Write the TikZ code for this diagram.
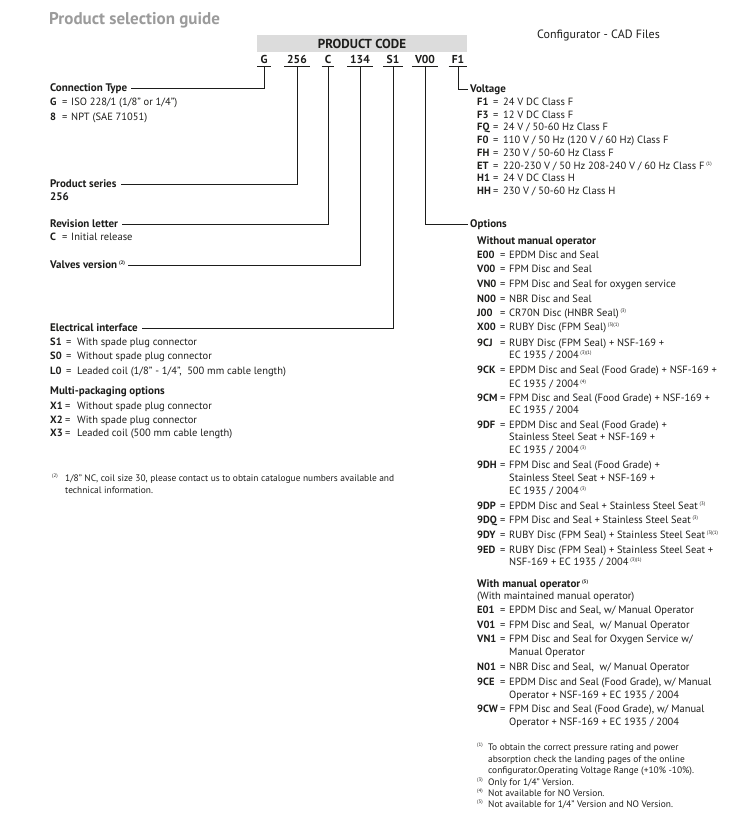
\documentclass[tikz,border=0pt]{standalone}
\usepackage{fontspec}
\setmainfont{PT Sans}
\usetikzlibrary{positioning}

\definecolor{titlegrey}{HTML}{9B9B9B}
\definecolor{boxgrey}{HTML}{DCDCDC}
\definecolor{inkcol}{HTML}{1D1D1B}
\newcommand{\fnref}[1]{\,\raisebox{0.75ex}{\fontsize{5}{6}\selectfont#1}}

\begin{document}
\begin{tikzpicture}[x=1pt, y=-1pt,
    txt/.style={anchor=west, inner sep=0pt, text height=7.4pt, text depth=0pt, text=inkcol, font=\fontsize{10.5}{12}\selectfont},
    head/.style={txt, text height=7.6pt, font=\fontsize{11}{13}\selectfont\bfseries},
    key/.style={txt, text height=7.4pt, font=\fontsize{10.5}{12}\selectfont\bfseries},
    small/.style={txt, text height=6.6pt, font=\fontsize{9.4}{11}\selectfont},
    fnmark/.style={txt, text height=3.5pt, font=\fontsize{5}{6}\selectfont},
    digit/.style={inner xsep=3pt, inner ysep=3.5pt, text height=8pt, text depth=0pt, text=inkcol, font=\fontsize{11.5}{13}\selectfont\bfseries},
    lead/.style={draw=inkcol, line width=0.8pt}
]
\useasboundingbox (0,0) rectangle (736,828);

% Kopf
\node[anchor=west, inner sep=0pt, text=titlegrey, font=\fontsize{17}{19}\selectfont\bfseries] (title) at (49,20) {Product selection guide};
\node[fill=boxgrey, minimum width=210pt, minimum height=17pt, inner sep=0pt, text=inkcol, font=\fontsize{13}{15}\selectfont\bfseries] (pcode) at (362,43.5) {PRODUCT CODE};
\node[anchor=west, inner sep=0pt, text=inkcol, font=\fontsize{12}{14}\selectfont] (cad) at (537,35) {Configurator - CAD Files};

% Code
\foreach \n/\x/\c in {G/264/G, S/297/256, R/328/C, V/360/134, E/393/S1, O/425/V00, F/458/F1}{
  \node[digit] (c\n) at (\x,59) {\c};
  \draw[lead] (c\n.south west) -- (c\n.south east);
}

% Linke Spalte
\node[head] (conn) at (50,88) {Connection Type};
\foreach \n/\y/\c/\t in {G/102/G/{ISO 228/1 (1/8" or 1/4")}, 8/117/8/{NPT (SAE 71051)}}{
  \node[key] (kc\n) at (50,\y) {\c};
  \node[txt] (qc\n) at (62,\y) {=};
  \node[txt] (tc\n) at (71,\y) {\t};
}
\node[head] (series) at (50,184) {Product series};
\node[head] (serval) at (50,197) {256};
\node[head] (rev) at (50,224) {Revision letter};
\node[key] (kr) at (50,237) {C};
\node[txt] (qr) at (62,237) {=};
\node[txt] (tr) at (71,237) {Initial release};
\node[head] (valves) at (50,265) {Valves version\fnref{(2)}};
\node[head] (elec) at (50,328) {Electrical interface};
\foreach \n/\y/\c/\t in {1/342/S1/{With spade plug connector}, 2/356/S0/{Without spade plug connector}, 3/371/L0/{Leaded coil (1/8" - 1/4",\ \ 500 mm cable length)}}{
  \node[key] (ke\n) at (50,\y) {\c};
  \node[txt] (qe\n) at (66,\y) {=};
  \node[txt] (te\n) at (77,\y) {\t};
}
\node[head] (multi) at (50,391) {Multi-packaging options};
\foreach \n/\y/\c/\t in {1/406/X1/{Without spade plug connector}, 2/420/X2/{With spade plug connector}, 3/433/X3/{Leaded coil (500 mm cable length)}}{
  \node[key] (km\n) at (50,\y) {\c};
  \node[txt] (qm\n) at (65,\y) {=};
  \node[txt] (tm\n) at (77,\y) {\t};
}
\node[fnmark] (fl) at (52,476) {(2)};
\node[small] (fl1) at (65,478) {1/8" NC, coil size 30, please contact us to obtain catalogue numbers available and};
\node[small] (fl2) at (65,490) {technical information.};

% Rechte Spalte: Spannung
\node[head] (volt) at (470,89) {Voltage};
\foreach \n/\y/\t in {F1/102/{24 V DC Class F}, F3/115/{12 V DC Class F}, FQ/127/{24 V / 50-60 Hz Class F}, F0/140/{110 V / 50 Hz (120 V / 60 Hz) Class F}, FH/153/{230 V / 50-60 Hz Class F}, ET/166/{220-230 V / 50 Hz 208-240 V / 60 Hz Class F\fnref{(1)}}, H1/178/{24 V DC Class H}, HH/191/{230 V / 50-60 Hz Class H}}{
  \node[key] (kv\n) at (477,\y) {\n};
  \node[txt] (qv\n) at (493,\y) {=};
  \node[txt] (tv\n) at (503,\y) {\t};
}

% Rechte Spalte: Optionen
\node[head] (opts) at (470,224) {Options};
\node[head] (nomo) at (477,241) {Without manual operator};
\foreach \n/\y/\t in {E00/255/{EPDM Disc and Seal}, V00/269/{FPM Disc and Seal}, VN0/284/{FPM Disc and Seal for oxygen service}, N00/299/{NBR Disc and Seal}, J00/313/{CR70N Disc (HNBR Seal)\fnref{(3)}}, X00/327/{RUBY Disc (FPM Seal)\fnref{(3)(1)}}, 9CJ/343/{RUBY Disc (FPM Seal) + NSF-169 +}, 9CK/370/{EPDM Disc and Seal (Food Grade) + NSF-169 +}, 9CM/398/{FPM Disc and Seal (Food Grade) + NSF-169 +}, 9DF/425/{EPDM Disc and Seal (Food Grade) +}, 9DH/465/{FPM Disc and Seal (Food Grade) +}, 9DP/506/{EPDM Disc and Seal + Stainless Steel Seat\fnref{(3)}}, 9DQ/520/{FPM Disc and Seal + Stainless Steel Seat\fnref{(3)}}, 9DY/535/{RUBY Disc (FPM Seal) + Stainless Steel Seat\fnref{(3)(1)}}, 9ED/550/{RUBY Disc (FPM Seal) + Stainless Steel Seat +}}{
  \node[key] (ko\n) at (477,\y) {\n};
  \node[txt] (qo\n) at (500,\y) {=};
  \node[txt] (to\n) at (509,\y) {\t};
}
\foreach \n/\y/\t in {1/355/{EC 1935 / 2004\fnref{(3)(1)}}, 2/384/{EC 1935 / 2004\fnref{(4)}}, 3/410/{EC 1935 / 2004}, 4/437/{Stainless Steel Seat + NSF-169 +}, 5/450/{EC 1935 / 2004\fnref{(3)}}, 6/478/{Stainless Steel Seat + NSF-169 +}, 7/491/{EC 1935 / 2004\fnref{(3)}}, 8/562/{NSF-169 + EC 1935 / 2004\fnref{(3)(1)}}}{
  \node[txt] (wo\n) at (509,\y) {\t};
}

\node[head] (wmo) at (477,584) {With manual operator\fnref{(5)}};
\node[txt] (wmo2) at (477,596) {(With maintained manual operator)};
\foreach \n/\y/\t in {E01/610/{EPDM Disc and Seal, w/ Manual Operator}, V01/625/{FPM Disc and Seal,\ \ w/ Manual Operator}, VN1/639/{FPM Disc and Seal for Oxygen Service w/}, N01/667/{NBR Disc and Seal,\ \ w/ Manual Operator}, 9CE/682/{EPDM Disc and Seal (Food Grade), w/ Manual}, 9CW/709/{FPM Disc and Seal (Food Grade), w/ Manual}}{
  \node[key] (km\n) at (477,\y) {\n};
  \node[txt] (qm\n) at (500,\y) {=};
  \node[txt] (tm\n) at (509,\y) {\t};
}
\foreach \n/\y/\t in {1/652/{Manual Operator}, 2/695/{Operator + NSF-169 + EC 1935 / 2004}, 3/722/{Operator + NSF-169 + EC 1935 / 2004}}{
  \node[txt] (wm\n) at (509,\y) {\t};
}

% Fussnoten
\foreach \n/\y in {1/745, 3/780, 4/791, 5/802}{
  \node[fnmark] (fm\n) at (477,\y) {(\n)};
}
\foreach \n/\y/\t in {1/747/{To obtain the correct pressure rating and power}, 2/759/{absorption check the landing pages of the online}, 3/770/{configurator.Operating Voltage Range (+10\% -10\%).}, 4/782/{Only for 1/4" Version.}, 5/793/{Not available for NO Version.}, 6/804/{Not available for 1/4" Version and NO Version.}}{
  \node[small] (fr\n) at (488,\y) {\t};
}

% Verbindungslinien
\draw[lead] (cG.south) |- ([xshift=4pt]conn.east);
\draw[lead] (cS.south) |- ([xshift=4pt]series.east);
\draw[lead] (cR.south) |- ([xshift=4pt]rev.east);
\draw[lead] (cV.south) |- ([xshift=3pt]valves.east);
\draw[lead] (cE.south) |- ([xshift=4pt]elec.east);
\draw[lead] (cO.south) |- ([xshift=-2pt]opts.west);
\draw[lead] (cF.south) |- ([xshift=-2pt]volt.west);

\end{tikzpicture}
\end{document}
